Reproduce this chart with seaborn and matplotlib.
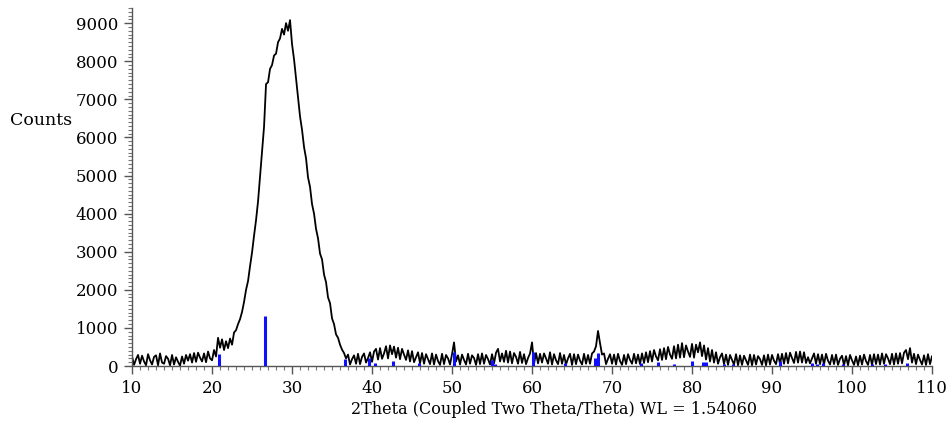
import numpy as np
import pandas as pd
import matplotlib
matplotlib.use("Agg")
import matplotlib.pyplot as plt
from matplotlib.ticker import MultipleLocator
import seaborn as sns

# 2theta grid of the scan (0.25 deg steps from 10 to 110)
two_theta = np.linspace(10, 110, 401)

# counts, 4 values per degree (noise band: highs and lows)
counts = [
    250, 30, 180, 290,      60, 270, 120, 20,       310, 150, 40, 240,      280, 20, 330, 90,
    60, 260, 190, 20,       290, 40, 230, 110,      10, 250, 60, 290,       140, 310, 90, 340,
    110, 350, 220, 120,     330, 100, 380, 200,     150, 420, 250, 740,     480, 700, 420, 650,
    470, 720, 560, 880,     940, 1100, 1230, 1420,  1680, 2000, 2230, 2620, 2980, 3420, 3830, 4320,
    4980, 5620, 6280, 7400, 7450, 7800, 7900, 8150, 8200, 8500, 8600, 8850, 8700, 9000, 8800, 9080,
    8450, 8050, 7550, 7050, 6550, 6200, 5750, 5450, 4950, 4700, 4250, 4000, 3600, 3350, 2950, 2800,
    2400, 2200, 1800, 1650, 1250, 1100, 830, 740,   560, 430, 340, 200,     300, 40, 180, 280,
    60, 320, 50, 240,       330, 90, 210, 360,      110, 380, 450, 170,     470, 190, 330, 520,
    200, 540, 310, 510,     220, 480, 180, 450,     300, 160, 410, 120,     390, 100, 230, 360,
    70, 340, 60, 310,       180, 50, 330, 40,       300, 130, 30, 320,      50, 290, 200, 40,
    310, 620, 120, 280,     40, 300, 160, 40,       320, 60, 280, 210,      30, 310, 50, 330,
    60, 290, 180, 40,       310, 70, 350, 450,      120, 330, 110, 400,     90, 380, 70, 340,
    240, 60, 370, 80,       310, 50, 210, 330,      620, 60, 340, 70,       320, 90, 330, 200,
    60, 360, 40, 310,       150, 50, 340, 60,       290, 40, 200, 320,      30, 310, 50, 300,
    140, 40, 320, 60,       290, 60, 330, 380,      520, 920, 600, 300,     330, 50, 190, 310,
    60, 300, 40, 320,       130, 30, 290, 50,       310, 160, 60, 320,      70, 300, 50, 330,
    80, 360, 100, 390,      120, 420, 250, 150,     440, 160, 470, 180,     500, 300, 190, 520,
    200, 560, 220, 600,     230, 540, 380, 240,     580, 220, 560, 360,     620, 260, 540, 170,
    470, 120, 420, 90,      360, 60, 230, 330,      50, 300, 30, 290,       160, 40, 310, 20,
    280, 30, 270, 150,      30, 300, 20, 290,       40, 260, 180, 30,       280, 20, 300, 40,
    290, 140, 50, 310,      60, 320, 60, 340,       70, 350, 210, 80,       370, 90, 380, 90,
    360, 80, 230, 70,       200, 330, 60, 310,      50, 300, 40, 320,       140, 40, 290, 50,
    300, 30, 190, 270,      20, 260, 20, 290,       150, 30, 250, 20,       270, 40, 300, 130,
    30, 290, 30, 310,       50, 300, 40, 330,       60, 310, 200, 50,       320, 40, 330, 60,
    340, 70, 350, 420,      180, 470, 90, 320,      50, 300, 160, 40,       280, 30, 310, 50,
    260,
]

# reference pattern sticks (blue)
ref_pos = [20.9, 26.6, 36.6, 39.6, 40.4, 42.6, 45.9, 50.3, 55.0, 55.4, 60.1, 64.1, 67.9, 68.3,
           73.6, 75.75, 77.75, 80.0, 81.4, 81.75, 84.0, 85.1, 91.0, 95.0, 95.6, 96.4, 98.9,
           102.5, 104.1, 106.9]
ref_height = [320, 1300, 190, 210, 90, 140, 90, 380, 160, 60, 370, 80, 200, 340,
              90, 100, 50, 130, 100, 100, 60, 50, 140, 70, 60, 70, 60,
              60, 50, 80]

sns.set_style("ticks")
plt.rcParams["font.family"] = ["DejaVu Serif"]

df = pd.DataFrame({"2theta": two_theta, "counts": counts})

fig = plt.figure(figsize=(9.52, 4.33), dpi=100)
ax = fig.add_axes([0.1387, 0.1547, 0.8403, 0.827])

sns.lineplot(data=df, x="2theta", y="counts", ax=ax, color="black", lw=1.3,
             estimator=None, sort=False)
ax.vlines(ref_pos, 0, ref_height, colors="#1010ff", lw=2.2, zorder=3)

ax.set_xlim(10, 110)
ax.set_ylim(0, 9400)
ax.xaxis.set_major_locator(MultipleLocator(10))
ax.xaxis.set_minor_locator(MultipleLocator(1))
ax.yaxis.set_major_locator(MultipleLocator(1000))
ax.yaxis.set_minor_locator(MultipleLocator(100))
ax.tick_params(axis="both", which="major", length=6, width=1, color="#555555",
               labelsize=12, labelcolor="black", pad=4)
ax.tick_params(axis="both", which="minor", length=3, width=0.8, color="#777777")

sns.despine(ax=ax)
for s in ["left", "bottom"]:
    ax.spines[s].set_color("#555555")
    ax.spines[s].set_linewidth(1)

ax.set_xlabel("2Theta (Coupled Two Theta/Theta) WL = 1.54060", fontsize=11.5,
              color="black")
ax.xaxis.set_label_coords(0.527, -0.098)
ax.set_ylabel("Counts", fontsize=12.5, color="black", rotation=0, ha="right", va="center")
ax.yaxis.set_label_coords(-0.075, 0.687)

fig.savefig("out.png", dpi=100)
